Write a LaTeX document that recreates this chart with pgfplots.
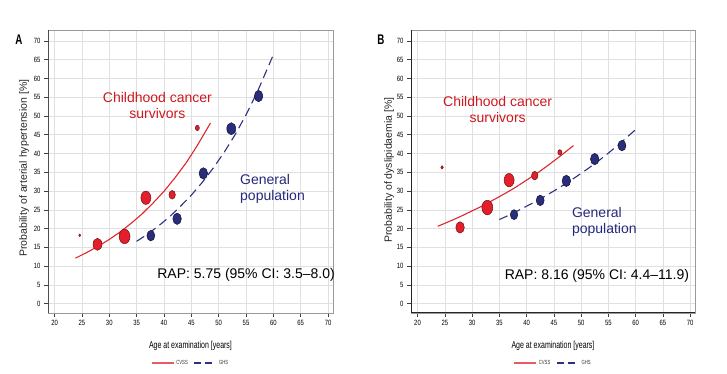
\documentclass[border=0pt]{standalone}
\usepackage{fontspec}
\setmainfont{Liberation Sans}
\newfontfamily\narrowfont[FakeStretch=0.7]{Liberation Sans}
\newfontfamily\tickfont[FakeStretch=0.78]{Liberation Sans}
\usepackage{pgfplots}
\pgfplotsset{compat=1.18}
\definecolor{cred}{RGB}{228,30,42}
\definecolor{credline}{RGB}{224,38,44}
\definecolor{credtext}{RGB}{204,24,30}
\definecolor{credout}{RGB}{110,18,18}
\definecolor{cblue}{RGB}{42,46,122}
\definecolor{cblueline}{RGB}{44,50,130}
\definecolor{cbluetext}{RGB}{36,40,122}
\definecolor{cblueout}{RGB}{18,18,55}
\tikzset{bigtext/.style={font=\fontsize{14bp}{16bp}\selectfont, inner sep=0pt}}
\pgfplotsset{panel/.style={
  scale only axis, height=283bp,
  xmin=18.8, xmax=70.9, ymin=-2.5, ymax=72.9,
  xtick={20,25,...,70}, ytick={0,5,...,70},
  xtick pos=bottom, ytick pos=left,
  tick align=outside, major tick length=4bp,
  tick style={black!75, line width=0.5bp},
  grid=major, major grid style={black!12, line width=0.5bp},
  axis line style={black!40, line width=0.6bp},
  ticklabel style={font=\tickfont\fontsize{7.6bp}{8bp}\selectfont, text=black},
  /pgf/number format/assume math mode=true,
  xlabel style={font=\narrowfont\fontsize{10bp}{12bp}\selectfont, at={(axis description cs:0.5,-0.117)}, anchor=center},
  ylabel style={font=\fontsize{10.5bp}{12bp}\selectfont, anchor=center, text=black!85},
  legend style={at={(axis description cs:0.5,-0.177)}, anchor=center, draw=none, fill=none,
    legend columns=2, font=\narrowfont\fontsize{6bp}{7bp}\selectfont, text=black!80,
    /tikz/every even column/.append style={column sep=4bp}},
  legend image code/.code={\draw[#1] (0bp,0bp) -- (22bp,0bp);},
}}
\pgfplotsset{
  redpts/.style={scatter, only marks, mark=*, forget plot,
    scatter/use mapped color={draw=credout, fill=cred},
    visualization depends on={\thisrow{s}\as\msz},
    scatter/@pre marker code/.append style={/tikz/mark size=\msz},
    mark options={xscale=0.75, line width=0.5bp}},
  bluepts/.style={scatter, only marks, mark=*, forget plot,
    scatter/use mapped color={draw=cblueout, fill=cblue},
    visualization depends on={\thisrow{s}\as\msz},
    scatter/@pre marker code/.append style={/tikz/mark size=\msz},
    mark options={xscale=0.75, line width=0.5bp}},
  redline/.style={draw=credline, line width=1.1bp, no marks, forget plot},
  blueline/.style={draw=cblueline, line width=1.1bp, no marks, dash pattern=on 9bp off 5bp, forget plot},
}
\begin{document}
\begin{tikzpicture}
\useasboundingbox (0,0) rectangle (727bp,374bp);
\node[font=\narrowfont\bfseries\fontsize{14bp}{14bp}\selectfont, inner sep=0pt] at (19bp,334bp) {A};
\node[font=\narrowfont\bfseries\fontsize{14bp}{14bp}\selectfont, inner sep=0pt] at (381bp,334bp) {B};
% ---------------- Panel A ----------------
\begin{axis}[panel, width=285bp, at={(48bp,61bp)}, anchor=south west,
  xlabel={Age at examination [years]},
  ylabel={Probability of arterial hypertension [\%]},
  ylabel style={at={(axis description cs:-0.084,0.512)}}]
\addplot[redpts] table[x=x,y=y]{
x y s
24.6 18.2 1.3
27.85 15.8 6.0
32.8 17.9 7.3
36.7 28.2 6.7
41.5 29.0 4.3
46.1 46.8 2.7
};
\addplot[bluepts] table[x=x,y=y]{
x y s
37.6 18.1 5.3
42.4 22.6 5.7
47.2 34.7 5.7
52.3 46.6 6.0
57.3 55.3 5.7
};
\addplot[redline] coordinates {
(23.8,12.1) (26,13.7) (28,15.3) (30,17.1) (32,19.1) (34,21.4) (36,23.9)
(38,26.8) (40,29.9) (42,33.5) (44,37.4) (46,41.9) (48.5,48.1)};
\addplot[blueline] coordinates {
(35,16.6) (37,18.5) (39,20.7) (41,23.1) (43,25.9) (45,28.9) (47,32.3)
(49,36.1) (51,40.3) (53,45.0) (55,50.3) (57,56.2) (59.85,65.8)};
\addlegendimage{draw=credline!75, line width=1.6bp}
\addlegendentry{CVSS}
\addlegendimage{draw=cblueline, line width=1.3bp, dash pattern=on 7bp off 4bp}
\addlegendentry{GHS}
\node[bigtext, text=credtext, align=center] at (axis cs:38.8,52.9) {Childhood cancer\\survivors};
\node[bigtext, text=cbluetext, align=left, anchor=west] at (axis cs:53.9,30.5) {General\\population};
\node[bigtext, text=black] at (axis cs:55.0,7.7) {RAP: 5.75 (95\% CI: 3.5--8.0)};
\draw[black!70, line width=0.9bp] (rel axis cs:0,1) -- (rel axis cs:0,0) -- (rel axis cs:1,0);
\end{axis}
% ---------------- Panel B ----------------
\begin{axis}[panel, width=284bp, at={(411bp,61bp)}, anchor=south west,
  xlabel={Age at examination [years]},
  ylabel={Probability of dyslipidaemia [\%]},
  ylabel style={at={(axis description cs:-0.077,0.505)}}]
\addplot[redpts] table[x=x,y=y]{
x y s
24.5 36.3 1.7
27.8 20.3 5.7
32.8 25.6 7.3
36.8 32.9 6.7
41.5 34.1 4.3
46.1 40.3 2.7
};
\addplot[bluepts] table[x=x,y=y]{
x y s
37.7 23.7 5.0
42.5 27.5 5.3
47.3 32.7 5.7
52.5 38.5 5.7
57.5 42.1 5.3
};
\addplot[redline] coordinates {
(23.7,20.6) (26,22.0) (28,23.3) (30,24.7) (32,26.1) (34,27.7) (36,29.3)
(38,31.0) (40,32.9) (42,34.8) (44,36.9) (46,39.1) (48.6,42.1)};
\addplot[blueline] coordinates {
(35,22.4) (37,23.7) (39,25.2) (41,26.7) (43,28.3) (45,30.0) (47,31.8)
(49,33.7) (51,35.7) (53,37.8) (55,40.1) (57,42.5) (59.96,46.3)};
\addlegendimage{draw=credline!75, line width=1.6bp}
\addlegendentry{CVSS}
\addlegendimage{draw=cblueline, line width=1.3bp, dash pattern=on 7bp off 4bp}
\addlegendentry{GHS}
\node[bigtext, text=credtext, align=center] at (axis cs:34.7,51.7) {Childhood cancer\\survivors};
\node[bigtext, text=cbluetext, align=left, anchor=west] at (axis cs:48.3,21.9) {General\\population};
\node[bigtext, text=black] at (axis cs:52.9,7.5) {RAP: 8.16 (95\% CI: 4.4--11.9)};
\draw[black!85, line width=1.1bp] (rel axis cs:0,1) -- (rel axis cs:0,0) -- (rel axis cs:1,0);
\end{axis}
\end{tikzpicture}
\end{document}
